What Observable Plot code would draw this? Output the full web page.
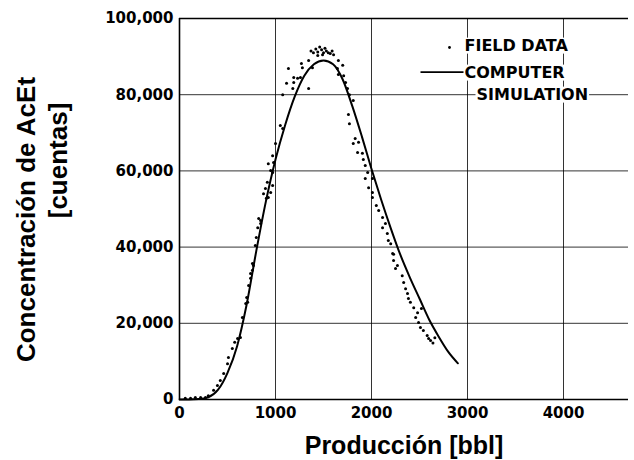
<!DOCTYPE html>
<html>
<head>
<meta charset="utf-8">
<script src="https://cdn.jsdelivr.net/npm/d3@7"></script>
<script src="https://cdn.jsdelivr.net/npm/@observablehq/plot@0.6"></script>
<style>
  html, body { margin: 0; padding: 0; background: #fff; }
  #chart svg { display: block; overflow: visible; }
</style>
</head>
<body>
<div id="chart"></div>
<script>
// ---- data ----
const simX = [0,100,200,300,400,500,600,700,800,900,1000,1100,1200,1300,1400,1500,1600,1700,1800,1900,2000,2100,2200,2300,2400,2500,2600,2700,2800,2900];
const simY = [0,0,100,600,2500,7000,14000,25000,39000,52000,63000,72000,79500,85000,88000,89000,88000,84000,77000,69000,60500,52500,45000,38000,32000,26500,21000,16500,12500,9500];

const fieldX = [60,115,165,220,270,300,355,395,425,460,500,510,550,575,605,635,655,690,710,700,720,740,760,770,740,760,790,800,815,845,825,845,875,905,925,950,895,970,915,970,950,925,980,970,1000,1050,1075,1075,1115,1180,1190,1190,1135,1230,1260,1270,1280,1345,1345,1385,
  1370,1395,1420,1440,1460,1480,1500,1515,1530,1550,1570,1590,1605,1440,1490,
  1645,1655,1655,1700,1710,1730,1750,1770,1810,1760,1770,1830,1810,1865,1855,1905,1915,1935,1960,2010,1935,1970,2010,2010,2050,2075,2115,2115,2145,2165,2175,2200,2230,2220,2230,2250,2270,2320,2335,2355,2375,2385,2405,2440,2480,2460,2490,2510,2540,2580,2595,2615,2520,2640,2660];
const fieldY = [300,300,500,500,500,1000,2400,3700,5000,6800,9400,11000,13400,15000,16000,16300,21500,25200,25500,26800,29900,31800,33900,35200,33100,35700,40400,42500,45100,46200,47500,47000,54000,52800,53000,54300,55400,56200,57000,59600,60100,61900,62200,64000,67200,71900,71100,80000,83000,81600,83200,84500,86900,84300,84500,88200,87100,81600,89000,87100,
  91500,91000,92000,91200,92500,91800,91000,92200,91500,91000,90800,91500,90500,90300,90500,
  86900,89000,85300,87700,85000,83200,81600,80000,78500,74800,72400,68500,67200,67500,64800,64600,63000,61400,59600,58000,58000,55600,54300,53000,50900,49600,47800,45100,46200,43600,41700,40900,38100,38300,36500,34400,35200,32500,30700,29100,27800,26500,25500,24100,22800,21500,20200,18900,18100,16800,16000,15500,23900,14800,16200];

const xTicks = [0, 1000, 2000, 3000, 4000];
const yTicks = [0, 20000, 40000, 60000, 80000, 100000];
const legendField = "FIELD DATA";
const legendSim1 = "COMPUTER";
const legendSim2 = "SIMULATION";
const xTitle = "Producción [bbl]";
const yTitle1 = "Concentración de AcEt";
const yTitle2 = "[cuentas]";

// ---- tables ----
const sim = simX.map((x, i) => ({x, y: simY[i]}));
const field = fieldX.map((x, i) => ({x, y: fieldY[i]}));

const tickFont = "DejaVu Sans, sans-serif";
const titleFont = "Liberation Sans, Arial, Helvetica, sans-serif";
const legendStyle = {textAnchor: "start", lineAnchor: "middle", fontSize: 16, fontWeight: "bold", fontFamily: tickFont};

const chart = Plot.plot({
  width: 634,
  height: 460,
  marginLeft: 179,
  marginRight: 6,
  marginTop: 18,
  marginBottom: 61,
  style: {fontFamily: tickFont, background: "#fff", color: "#000"},
  x: {domain: [0, 4677], axis: null},
  y: {domain: [0, 100000], axis: null},
  marks: [
    Plot.gridX(xTicks.filter(d => d > 0), {stroke: "#000", strokeOpacity: 0.8, strokeWidth: 1}),
    Plot.gridY(yTicks.filter(d => d > 0 && d < 100000), {stroke: "#000", strokeOpacity: 0.8, strokeWidth: 1}),
    Plot.ruleY([100000], {stroke: "#000", strokeWidth: 1.3}),
    Plot.ruleY([0], {stroke: "#000", strokeWidth: 1.6}),
    Plot.ruleX([0], {stroke: "#000", strokeWidth: 1.6}),
    Plot.line(sim, {x: "x", y: "y", stroke: "#000", strokeWidth: 2, curve: "monotone-x"}),
    Plot.dot(field, {x: "x", y: "y", r: 1.5, fill: "#000", stroke: null}),
    Plot.axisX(xTicks, {tickSize: 0, tickPadding: 8, fontSize: 15, fontWeight: "bold", fontFamily: tickFont, tickFormat: d3.format("d"), label: null}),
    Plot.axisY(yTicks, {tickSize: 0, tickPadding: 6, fontSize: 15, fontWeight: "bold", fontFamily: tickFont, tickFormat: d3.format(","), label: null}),
    // legend
    Plot.dot([legendField], {frameAnchor: "top-right", dx: -179, dy: 29, r: 1.4, fill: "#000", stroke: null}),
    Plot.text([legendField], {frameAnchor: "top-right", dx: -164, dy: 27, ...legendStyle}),
    Plot.text([legendSim1], {frameAnchor: "top-right", dx: -164, dy: 54, ...legendStyle}),
    Plot.text([legendSim2], {frameAnchor: "top-right", dx: -152, dy: 76, ...legendStyle}),
    // titles
    Plot.text([xTitle], {frameAnchor: "bottom", dy: 46, textAnchor: "middle", lineAnchor: "middle", fontSize: 25, fontWeight: "bold", fontFamily: titleFont}),
    Plot.text([yTitle1], {frameAnchor: "left", rotate: -90, dx: -153, dy: 10.5, textAnchor: "middle", lineAnchor: "middle", fontSize: 26, fontWeight: "bold", fontFamily: titleFont}),
    Plot.text([yTitle2], {frameAnchor: "left", rotate: -90, dx: -121, dy: -48.5, textAnchor: "middle", lineAnchor: "middle", fontSize: 26, fontWeight: "bold", fontFamily: titleFont})
  ]
});

document.getElementById("chart").appendChild(chart);

// white backgrounds behind legend labels, and the simulation line sample
const legendLabels = [legendField, legendSim1, legendSim2];
const NS = "http://www.w3.org/2000/svg";
Array.from(chart.querySelectorAll("text"))
  .filter(t => legendLabels.includes(t.textContent))
  .forEach(t => {
    const b = t.getBBox();
    const parent = t.parentNode;
    const tr = t.getAttribute("transform");
    const rect = document.createElementNS(NS, "rect");
    rect.setAttribute("x", b.x - 1);
    rect.setAttribute("y", b.y + 2);
    rect.setAttribute("width", b.width + 2);
    rect.setAttribute("height", Math.max(0, b.height - 3));
    rect.setAttribute("fill", "#fff");
    if (tr) rect.setAttribute("transform", tr);
    parent.insertBefore(rect, t);
    if (t.textContent === legendSim1) {
      const cy = b.y + b.height / 2;
      const line = document.createElementNS(NS, "line");
      line.setAttribute("x1", b.x - 44);
      line.setAttribute("x2", b.x - 1);
      line.setAttribute("y1", cy);
      line.setAttribute("y2", cy);
      line.setAttribute("stroke", "#000");
      line.setAttribute("stroke-width", 1.6);
      if (tr) line.setAttribute("transform", tr);
      parent.appendChild(line);
    }
  });
</script>
</body>
</html>
